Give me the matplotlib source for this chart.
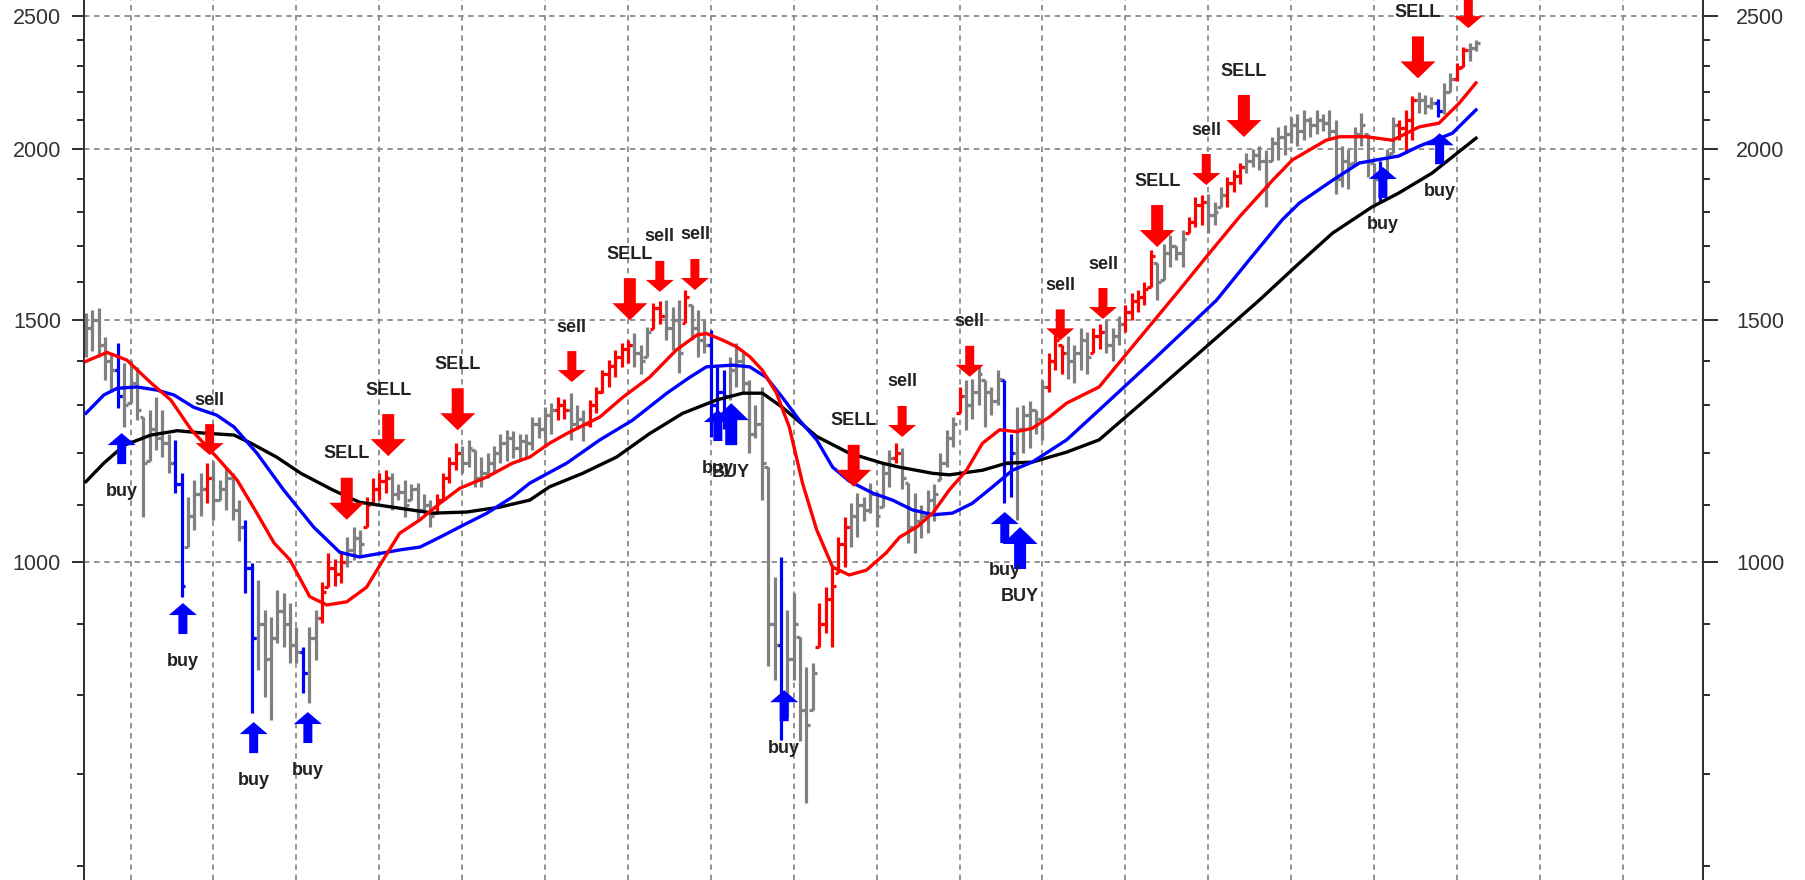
import numpy as np
import matplotlib
matplotlib.use("Agg")
import matplotlib.pyplot as plt
from matplotlib.ticker import NullFormatter

plt.rcParams['font.family'] = ['Liberation Sans', 'DejaVu Sans']

# =========================
# Bars (daily high / low / close)
# =========================

highs = [
    1519, 1525, 1530, 1458, 1420, 1443, 1395, 1403, 1387, 1275,
    1290, 1318, 1290, 1240, 1227, 1160, 1115, 1147, 1160, 1180,
    1185, 1147, 1172, 1160, 1109, 1073, 998, 970, 922, 911,
    954, 949, 933, 896, 866, 896, 922, 967, 1015, 1005,
    1016, 1042, 1060, 1055, 1115, 1151, 1160, 1166, 1160, 1140,
    1147, 1140, 1141, 1120, 1109, 1120, 1160, 1192, 1220, 1215,
    1227, 1206, 1192, 1200, 1215, 1240, 1248, 1245, 1240, 1240,
    1275, 1275, 1296, 1305, 1318, 1315, 1327, 1300, 1290, 1312,
    1341, 1379, 1403, 1427, 1443, 1451, 1467, 1440, 1483, 1544,
    1550, 1551, 1534, 1551, 1577, 1540, 1525, 1500, 1475, 1387,
    1380, 1410, 1443, 1420, 1356, 1300, 1341, 1172, 975, 1008,
    922, 949, 881, 838, 843, 933, 958, 991, 1042, 1078,
    1103, 1122, 1115, 1141, 1125, 1180, 1206, 1220, 1210, 1141,
    1122, 1100, 1128, 1140, 1200, 1248, 1275, 1341, 1356, 1360,
    1390, 1356, 1340, 1380, 1356, 1240, 1296, 1300, 1310, 1290,
    1356, 1420, 1475, 1440, 1460, 1440, 1480, 1470, 1480, 1490,
    1500, 1480, 1510, 1540, 1570, 1578, 1600, 1688, 1650, 1706,
    1730, 1700, 1744, 1785, 1844, 1850, 1855, 1830, 1876, 1909,
    1930, 1953, 1986, 2000, 2010, 1997, 2040, 2075, 2080, 2111,
    2120, 2135, 2110, 2135, 2120, 2135, 2098, 2009, 2000, 2075,
    2123, 2052, 1953, 1960, 2000, 2111, 2100, 2135, 2186, 2200,
    2190, 2180, 2174, 2234, 2270, 2310, 2374, 2388, 2401,
]

lows = [
    1410, 1425, 1410, 1357, 1330, 1294, 1254, 1305, 1268, 1078,
    1185, 1206, 1192, 1160, 1122, 943, 1025, 1055, 1080, 1103,
    1073, 1109, 1090, 1073, 1036, 949, 776, 834, 797, 767,
    873, 866, 843, 843, 802, 789, 848, 902, 958, 960,
    965, 991, 1003, 1010, 1060, 1103, 1110, 1122, 1090, 1110,
    1078, 1110, 1073, 1085, 1060, 1085, 1110, 1141, 1166, 1160,
    1172, 1134, 1134, 1150, 1160, 1180, 1185, 1190, 1185, 1190,
    1206, 1230, 1212, 1240, 1268, 1270, 1227, 1250, 1225, 1254,
    1283, 1327, 1341, 1363, 1387, 1396, 1387, 1370, 1410, 1477,
    1490, 1451, 1427, 1372, 1494, 1450, 1410, 1420, 1233, 1240,
    1250, 1312, 1341, 1330, 1200, 1230, 1109, 839, 820, 741,
    771, 820, 740, 667, 780, 866, 887, 866, 981, 991,
    1025, 1042, 1070, 1085, 1060, 1096, 1134, 1180, 1130, 1032,
    1015, 1040, 1049, 1070, 1147, 1172, 1212, 1283, 1248, 1270,
    1300, 1254, 1280, 1300, 1103, 1115, 1073, 1200, 1210, 1240,
    1227, 1330, 1380, 1370, 1360, 1350, 1380, 1370, 1420, 1430,
    1420, 1400, 1440, 1470, 1500, 1520, 1540, 1586, 1551, 1604,
    1640, 1660, 1641, 1736, 1754, 1760, 1736, 1760, 1814, 1814,
    1860, 1886, 1920, 1940, 1930, 1814, 1960, 1964, 1980, 2020,
    2010, 2029, 2040, 2050, 2060, 2030, 1855, 1876, 1870, 1953,
    2009, 1908, 1814, 1830, 1900, 1986, 2030, 1986, 2029, 2123,
    2120, 2140, 2111, 2120, 2200, 2243, 2294, 2319, 2358,
]

closes = [
    1480, 1500, 1440, 1400, 1380, 1320, 1300, 1350, 1290, 1180,
    1250, 1230, 1220, 1180, 1140, 960, 1080, 1120, 1130, 1150,
    1110, 1130, 1150, 1090, 1060, 990, 880, 900, 850, 880,
    920, 900, 870, 860, 830, 880, 910, 950, 990, 980,
    1000, 1020, 1040, 1030, 1100, 1130, 1145, 1150, 1120, 1125,
    1100, 1130, 1090, 1100, 1080, 1110, 1150, 1180, 1200, 1180,
    1210, 1150, 1160, 1180, 1200, 1220, 1230, 1210, 1225, 1220,
    1260, 1250, 1280, 1290, 1300, 1290, 1260, 1270, 1260, 1300,
    1330, 1370, 1390, 1410, 1430, 1440, 1420, 1400, 1470, 1530,
    1510, 1480, 1500, 1420, 1560, 1480, 1450, 1440, 1300, 1330,
    1320, 1380, 1400, 1350, 1240, 1260, 1180, 900, 870, 800,
    850, 900, 780, 760, 830, 900, 940, 960, 1030, 1060,
    1080, 1100, 1090, 1120, 1080, 1160, 1190, 1200, 1150, 1060,
    1070, 1080, 1110, 1120, 1180, 1230, 1260, 1320, 1300, 1330,
    1370, 1330, 1310, 1360, 1180, 1200, 1250, 1280, 1290, 1270,
    1340, 1400, 1450, 1420, 1400, 1420, 1450, 1410, 1460, 1470,
    1440, 1460, 1490, 1520, 1550, 1560, 1580, 1670, 1600, 1680,
    1700, 1680, 1720, 1770, 1820, 1830, 1790, 1800, 1850, 1890,
    1910, 1940, 1960, 1980, 1960, 1880, 2020, 2040, 2050, 2080,
    2060, 2100, 2080, 2100, 2090, 2060, 1900, 1960, 1950, 2050,
    2080, 1960, 1900, 1920, 1980, 2080, 2070, 2100, 2170, 2170,
    2150, 2160, 2130, 2200, 2250, 2290, 2360, 2370, 2390,
]

# bars drawn in red (sell zone) and blue (buy zone), the rest grey
red_bars = [19, 37, 38, 39, 40, 44, 45, 46, 47, 55, 56, 57, 58, 74, 75,
            79, 80, 81, 82, 83, 84, 85, 89, 90, 94, 115, 116, 117, 118, 119,
            127, 137, 151, 152, 153, 158, 159, 163, 164, 165, 166, 167,
            173, 174, 175, 179, 180, 181, 206, 207, 208, 215, 216]
blue_bars = [5, 14, 15, 25, 26, 34, 98, 99, 100, 109, 144, 145, 203, 212]

# =========================
# Moving averages (bar position, value)
# =========================

ma_fast_x = [0, 3.3, 6.4, 10.2, 13.3, 16.5, 20.5, 23.7, 26.8, 29.5, 32.0, 35.1, 37.8,
             40.9, 44.0, 46.6, 49.2, 52.4, 55.5, 58.6, 62.9, 66.9, 69.6, 72.7, 75.4,
             80.6, 84.2, 88.4, 92.6, 95.8, 97.3, 99.8, 102.0, 104.1, 106.1, 108.3,
             110.3, 112.4, 114.6, 117.1, 119.7, 122.4, 125.5, 127.6, 130.3, 132.8,
             135.4, 138.1, 140.6, 143.3, 145.9, 148.4, 151.1, 153.8, 158.9, 165.2,
             171.5, 175.7, 180.9, 186.1, 189.2, 194.5, 196.6, 200.8, 204.9, 209.1,
             212.2, 215.4, 218.0]
ma_fast = [1400, 1421, 1403, 1350, 1312, 1248, 1192, 1147, 1085, 1032, 1003, 943, 930,
           935, 958, 1003, 1049, 1073, 1103, 1131, 1153, 1180, 1192, 1220, 1240,
           1275, 1318, 1363, 1427, 1463, 1467, 1451, 1435, 1411, 1379, 1327,
           1254, 1140, 1055, 991, 978, 986, 1015, 1042, 1060, 1085,
           1128, 1166, 1220, 1248, 1244, 1251, 1275, 1305, 1341, 1455,
           1578, 1668, 1784, 1897, 1963, 2029, 2041, 2041, 2029, 2075,
           2088, 2160, 2234]

ma_mid_x = [0, 2.8, 4.9, 8.0, 11.1, 13.8, 16.9, 20.5, 23.2, 26.8, 31.0, 35.7, 39.8,
            42.9, 46.1, 49.2, 52.4, 55.5, 58.6, 62.9, 66.9, 69.6, 75.4, 80.6, 85.7,
            91.1, 94.7, 97.3, 101.4, 104.1, 106.7, 109.2, 111.9, 114.6, 117.1,
            119.7, 123.4, 126.5, 129.6, 132.8, 135.9, 139.0, 142.2, 145.3, 148.4,
            153.8, 158.9, 166.8, 177.3, 182.4, 187.6, 190.3, 195.5, 199.7, 202.4,
            205.9, 209.1, 214.3, 218.0]
ma_mid = [1283, 1323, 1338, 1341, 1334, 1323, 1296, 1279, 1254, 1200, 1128, 1060, 1016,
          1008, 1014, 1020, 1025, 1042, 1060, 1085, 1115, 1141, 1180, 1227, 1268,
          1327, 1363, 1387, 1391, 1387, 1363, 1318, 1268, 1227, 1172,
          1145, 1122, 1109, 1091, 1082, 1085, 1103, 1134, 1166, 1182,
          1227, 1290, 1395, 1551, 1659, 1775, 1826, 1897, 1953, 1963,
          1976, 2009, 2053, 2135]

ma_slow_x = [0, 2.8, 6.0, 10.2, 14.3, 18.5, 23.2, 25.9, 29.9, 33.7, 38.7, 42.9, 49.2,
             54.4, 59.7, 64.9, 69.6, 72.7, 77.9, 83.2, 88.4, 93.6, 98.9, 103.0, 106.1,
             109.2, 114.6, 119.7, 124.9, 127.6, 132.8, 135.4, 140.6, 144.4, 148.4,
             153.8, 158.9, 166.8, 174.6, 184.0, 190.3, 195.5, 201.7, 205.9, 211.1, 218.0]
ma_slow = [1144, 1180, 1216, 1237, 1246, 1241, 1237, 1220, 1192, 1160, 1128, 1105, 1094,
           1085, 1087, 1096, 1109, 1134, 1160, 1192, 1240, 1283, 1312, 1327, 1327,
           1296, 1234, 1200, 1180, 1172, 1160, 1157, 1166, 1180, 1182,
           1202, 1227, 1320, 1420, 1551, 1651, 1736, 1814, 1857, 1920, 2036]

# =========================
# Signals (arrow tip position and label)
# =========================

sell_x = [19.4, 40.9, 47.4, 58.3, 76.2, 85.3, 90.0, 95.5, 120.4, 128.0, 138.6,
          152.8, 159.5, 168.0, 175.7, 181.6, 208.9, 216.8]
sell_y = [1196, 1073, 1194, 1247, 1352, 1500, 1573, 1578, 1134, 1233, 1364,
          1450, 1503, 1696, 1882, 2040, 2251, 2449]
sell_text = ['sell', 'SELL', 'SELL', 'SELL', 'sell', 'SELL', 'sell', 'sell', 'SELL',
             'sell', 'sell', 'sell', 'sell', 'SELL', 'sell', 'SELL', 'SELL', 'sell']

buy_x = [5.6, 15.2, 26.3, 34.8, 99.1, 101.2, 109.5, 144.1, 146.5, 203.4, 212.3]
buy_y = [1241, 933, 764, 777, 1290, 1305, 806, 1087, 1060, 1940, 2053]
buy_text = ['buy', 'buy', 'buy', 'buy', 'buy', 'BUY', 'buy', 'buy', 'BUY', 'buy', 'buy']

y_major = [1000, 1500, 2000, 2500]
y_minor = [600, 700, 800, 900, 1100, 1200, 1300, 1400, 1600, 1700, 1800, 1900,
           2100, 2200, 2300, 2400]
grid_x = [7 + 13 * k for k in range(19)]

# =========================
# Figure
# =========================

GREY, RED, BLUE = '#808080', '#ff0000', '#0000ff'
AXIS = '#333333'

fig = plt.figure(figsize=(18.06, 8.80), dpi=100)
ax = fig.add_axes([84 / 1806, 0.0, (1702.7 - 84) / 1806, 1.0])

ax.set_yscale('log')
ax.set_ylim(586.1, 2567.6)
ax.set_xlim(-0.31, 253.56)

n = len(closes)
x = np.arange(n)
hi = np.array(highs, dtype=float)
lo = np.array(lows, dtype=float)
cl = np.array(closes, dtype=float)
op = np.clip(np.concatenate([[cl[0]], cl[:-1]]), lo, hi)

cols = [GREY] * n
for i in red_bars:
    cols[i] = RED
for i in blue_bars:
    cols[i] = BLUE

tick_w = 0.6
bar_lw = 2.3
ax.vlines(x, lo, hi, colors=cols, lw=bar_lw, zorder=2)
ax.hlines(op, x - tick_w, x, colors=cols, lw=bar_lw, zorder=2)
ax.hlines(cl, x, x + tick_w, colors=cols, lw=bar_lw, zorder=2)

ma_lw = 2.4
ax.plot(ma_slow_x, ma_slow, color='black', lw=ma_lw, zorder=3)
ax.plot(ma_mid_x, ma_mid, color=BLUE, lw=ma_lw, zorder=3)
ax.plot(ma_fast_x, ma_fast, color=RED, lw=ma_lw, zorder=3)


def signal(xv, yv, text, colour, down):
    big = text.isupper()
    length = 42 if big else 31
    hw, hl, tw = (35, 17, 12) if big else (28, 12, 9)
    sign = 1 if down else -1
    style = "simple,head_width=%.2f,head_length=%.2f,tail_width=%.2f" % (
        hw / 1.389, hl / 1.389, tw / 1.389)
    ax.annotate('', xy=(xv, yv), xytext=(0, sign * length), textcoords='offset pixels',
                arrowprops=dict(arrowstyle=style, fc=colour, ec='none', lw=0,
                                shrinkA=0, shrinkB=0, mutation_scale=1),
                zorder=5)
    gap = 24 if down else 27
    ax.annotate(text, xy=(xv, yv), xytext=(0, sign * (length + gap)),
                textcoords='offset pixels', ha='center', va='center',
                fontsize=13, fontweight='bold', color='#222222', zorder=6)


for xv, yv, t in zip(sell_x, sell_y, sell_text):
    signal(xv, yv, t, RED, True)
for xv, yv, t in zip(buy_x, buy_y, buy_text):
    signal(xv, yv, t, BLUE, False)

# grid
ax.set_xticks(grid_x)
ax.tick_params(axis='x', length=0, labelbottom=False)
ax.set_yticks(y_major, [str(v) for v in y_major])
ax.set_yticks(y_minor, minor=True)
ax.yaxis.set_minor_formatter(NullFormatter())
ax.set_axisbelow(True)
ax.grid(True, which='major', color='#8a8a8a', lw=1.3, linestyle=(0, (3.0, 2.6)))

for s in ['top', 'bottom']:
    ax.spines[s].set_visible(False)
for s in ['left', 'right']:
    ax.spines[s].set_color(AXIS)
    ax.spines[s].set_linewidth(1.45)

ax.tick_params(axis='y', which='major', direction='out', length=9, width=1.45,
               pad=7.5, labelsize=15.5, labelcolor=AXIS, color=AXIS)
ax.tick_params(axis='y', which='minor', direction='out', length=4.7, width=1.45,
               color=AXIS)

# right-hand axis copy
ax2 = ax.twinx()
ax2.set_yscale('log')
ax2.set_ylim(ax.get_ylim())
ax2.set_yticks(y_major, [str(v) for v in y_major])
ax2.set_yticks(y_minor, minor=True)
ax2.yaxis.set_minor_formatter(NullFormatter())
for s in ['top', 'bottom', 'left']:
    ax2.spines[s].set_visible(False)
ax2.spines['right'].set_color(AXIS)
ax2.spines['right'].set_linewidth(1.45)
ax2.tick_params(axis='y', which='major', direction='out', length=11, width=1.45,
                pad=13, labelsize=15.5, labelcolor=AXIS, color=AXIS)
ax2.tick_params(axis='y', which='minor', direction='out', length=5, width=1.45,
                color=AXIS)

fig.savefig('out.png', dpi=100)
